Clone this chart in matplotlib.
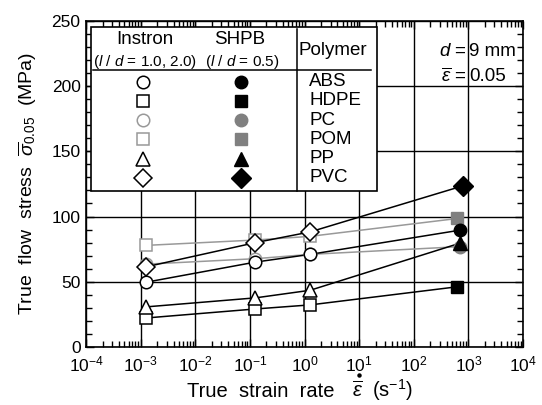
import matplotlib
matplotlib.use("Agg")
import matplotlib.pyplot as plt
from matplotlib.ticker import MultipleLocator, LogLocator
from matplotlib.patches import Rectangle
from matplotlib.lines import Line2D

plt.rcParams['font.family'] = ['Liberation Sans', 'DejaVu Sans']
plt.rcParams['mathtext.fontset'] = 'custom'
plt.rcParams['mathtext.rm'] = 'Liberation Sans'
plt.rcParams['mathtext.it'] = 'Liberation Sans:italic'
plt.rcParams['mathtext.bf'] = 'Liberation Sans:bold'

# strain rates (1/s)
rate_instron = [1.26e-3, 0.126, 1.26]
polymers = ["ABS", "HDPE", "PC", "POM", "PP", "PVC"]
rate_shpb = [690, 630, 690, 630, 690, 795]

# true flow stress at strain 0.05 (MPa)
stress_instron = {
    "ABS":  [49.7, 65.1, 71.0],
    "HDPE": [22.3, 29.2, 32.3],
    "PC":   [63.5, 67.7, 71.0],
    "POM":  [77.9, 82.0, 84.8],
    "PP":   [30.8, 37.7, 43.5],
    "PVC":  [61.5, 80.0, 88.2],
}
stress_shpb = [89.5, 46.2, 76.9, 98.5, 79.5, 123.5]

markers = {"ABS": "o", "HDPE": "s", "PC": "o", "POM": "s", "PP": "^", "PVC": "D"}
msize = {"o": 9, "s": 9, "^": 9.5, "D": 9}
line_col = {"ABS": "black", "HDPE": "black", "PC": "#999999", "POM": "#999999",
            "PP": "black", "PVC": "black"}
open_edge = {"ABS": "black", "HDPE": "black", "PC": "#999999", "POM": "#999999",
             "PP": "black", "PVC": "black"}
fill_col = {"ABS": "black", "HDPE": "black", "PC": "#808080", "POM": "#808080",
            "PP": "black", "PVC": "black"}

fig = plt.figure(figsize=(5.42, 4.05), dpi=100)
ax = fig.add_axes([0.159, 0.143, 0.806, 0.806])

# gray series first so black ones sit on top
order = ["PC", "POM", "ABS", "HDPE", "PP", "PVC"]
for name in order:
    i = polymers.index(name)
    xs = rate_instron + [rate_shpb[i]]
    ys = stress_instron[name] + [stress_shpb[i]]
    m = markers[name]
    ax.plot(xs, ys, color=line_col[name], lw=1.1, zorder=3)
    ax.plot(rate_instron, stress_instron[name], ls="none", marker=m,
            ms=msize[m], mfc="white", mec=open_edge[name], mew=1.1, zorder=4)
    ax.plot([rate_shpb[i]], [stress_shpb[i]], ls="none", marker=m,
            ms=msize[m] + (1 if m == "D" else 0), mfc=fill_col[name],
            mec=fill_col[name], zorder=4)

ax.set_xscale("log")
ax.set_xlim(1e-4, 1e4)
ax.set_ylim(0, 250)
ax.xaxis.set_major_locator(LogLocator(base=10, numticks=20))
ax.xaxis.set_minor_locator(LogLocator(base=10, subs=range(2, 10), numticks=20))
ax.yaxis.set_major_locator(MultipleLocator(50))
ax.yaxis.set_minor_locator(MultipleLocator(10))
ax.grid(True, which="major", color="black", lw=1.0)
ax.tick_params(which="both", direction="in", top=True, right=True,
               labelsize=12.5, width=1.0, colors="black")
ax.tick_params(which="major", length=6)
ax.tick_params(axis="x", which="major", pad=5)
ax.tick_params(axis="y", which="major", pad=4)
ax.tick_params(which="minor", length=4)
for s in ax.spines.values():
    s.set_linewidth(1.2)

ax.set_ylabel(r"True  flow  stress  $\overline{\sigma}_{0.05}$  (MPa)", fontsize=14, labelpad=9)

# x label built in pieces so the dot sits over the barred epsilon
fig.text(0.618, 0.0205, "True  strain  rate", ha="right", va="baseline", fontsize=14.5)
fig.text(0.6596, 0.0205, r"$\overline{\varepsilon}$", ha="center", va="baseline", fontsize=14.5)
fig.add_artist(Line2D([0.6615], [0.074], transform=fig.transFigure, marker="o",
                      ms=2.2, color="black", ls="none"))
fig.text(0.686, 0.0205, r"(s$^{-1}$)", ha="left", va="baseline", fontsize=14.5)

# table-style legend
T = ax.transAxes
ax.add_patch(Rectangle((0.011, 0.477), 0.655, 0.504, transform=T, facecolor="white",
                       edgecolor="black", lw=1.2, zorder=10))
ax.plot([0.482, 0.482], [0.477, 0.974], transform=T, color="black", lw=1.1, zorder=11)
ax.plot([0.016, 0.651], [0.849, 0.849], transform=T, color="black", lw=1.1, zorder=11)
ax.text(0.135, 0.942, "Instron", transform=T, ha="center", va="center", fontsize=13.5, zorder=12)
ax.text(0.352, 0.942, "SHPB", transform=T, ha="center", va="center", fontsize=13.5, zorder=12)
ax.text(0.135, 0.874, r"($l$ / $d$ = 1.0, 2.0)", transform=T, ha="center", va="center", fontsize=11, zorder=12)
ax.text(0.356, 0.874, r"($l$ / $d$ = 0.5)", transform=T, ha="center", va="center", fontsize=11, zorder=12)
ax.text(0.565, 0.908, "Polymer", transform=T, ha="center", va="center", fontsize=13.5, zorder=12)

row_y = [0.813, 0.754, 0.695, 0.636, 0.577, 0.518]
for name, yy in zip(polymers, row_y):
    m = markers[name]
    ax.plot([0.130], [yy], transform=T, marker=m, ms=msize[m], mfc="white",
            mec=open_edge[name], mew=1.1, ls="none", zorder=12, clip_on=False)
    ax.plot([0.354], [yy], transform=T, marker=m, ms=msize[m] + (1 if m == "D" else 0),
            mfc=fill_col[name], mec=fill_col[name], ls="none", zorder=12, clip_on=False)
    ax.text(0.511, yy, name, transform=T, ha="left", va="center", fontsize=13.5, zorder=12)

ax.text(0.871, 0.906, r"$d$ =", transform=T, ha="right", va="center", fontsize=13.5, zorder=12)
ax.text(0.877, 0.906, "9 mm", transform=T, ha="left", va="center", fontsize=13.5, zorder=12)
ax.text(0.871, 0.829, r"$\overline{\varepsilon}$ =", transform=T, ha="right", va="center", fontsize=13.5, zorder=12)
ax.text(0.877, 0.829, "0.05", transform=T, ha="left", va="center", fontsize=13.5, zorder=12)

fig.savefig("out.png", dpi=100)
